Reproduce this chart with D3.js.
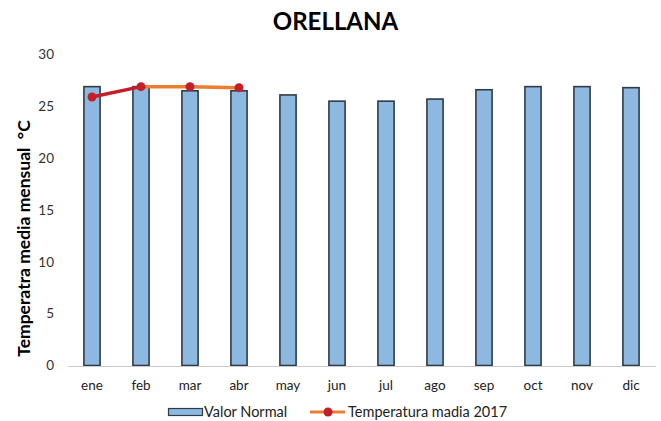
<!DOCTYPE html>
<html><head><meta charset="utf-8">
<script src="https://cdn.jsdelivr.net/npm/d3@7"></script>
<style>body{margin:0;background:#fff}svg{display:block;font-family:Lato,"Open Sans",sans-serif}</style>
</head><body>
<script>
const months = ["ene","feb","mar","abr","may","jun","jul","ago","sep","oct","nov","dic"];
const valorNormal = [26.9,26.9,26.5,26.5,26.1,25.5,25.5,25.7,26.6,26.9,26.9,26.8];
const temp2017 = [25.9,26.9,26.9,26.8];
const yTicks = [0,5,10,15,20,25,30];

const W=661,H=421;
const svg=d3.select("body").append("svg").attr("width",W).attr("height",H);
const x=d3.scaleBand().domain(months).range([67.5,655.5]).paddingInner(0.67).paddingOuter(0.335);
const y=d3.scaleLinear().domain([0,30]).range([365.5,54.5]);

svg.append("text").attr("x",335.5).attr("y",30).attr("text-anchor","middle")
  .attr("font-size",24).attr("font-weight","bold").attr("fill","#000").text("ORELLANA");

// y tick labels
const ya=svg.append("g").attr("transform","translate(54,0)")
  .call(d3.axisLeft(y).tickValues(yTicks).tickSize(0).tickPadding(0));
ya.select(".domain").remove();
ya.selectAll("text").attr("font-size",13.5).attr("fill","#333").attr("font-family","Lato,sans-serif");

// bars
svg.append("g").selectAll("rect").data(valorNormal).join("rect")
  .attr("x",(d,i)=>x(months[i])).attr("width",x.bandwidth())
  .attr("y",d=>y(d)).attr("height",d=>y(0)-y(d))
  .attr("fill","#8DB9E0").attr("stroke","#2F3B47").attr("stroke-width",1.6);

// x axis
const xa=svg.append("g").attr("transform","translate(0,366)")
  .call(d3.axisBottom(x).tickSize(0).tickPadding(14));
xa.select(".domain").attr("stroke","#C8C8C8").attr("stroke-width",1.2);
xa.selectAll("text").attr("font-size",13.5).attr("fill","#222").attr("font-family","Lato,sans-serif");

// line
const cx=i=>x(months[i])+x.bandwidth()/2;
const pts=temp2017.map((d,i)=>[cx(i),y(d)]);
svg.append("path").attr("d",d3.line()(pts.slice(1))).attr("fill","none")
  .attr("stroke","#ED7D31").attr("stroke-width",3.5);
svg.append("path").attr("d",d3.line()(pts.slice(0,2))).attr("fill","none")
  .attr("stroke","#C41E2A").attr("stroke-width",3.5);
svg.append("g").selectAll("circle").data(pts).join("circle")
  .attr("cx",d=>d[0]).attr("cy",d=>d[1]).attr("r",4.5).attr("fill","#C41E2A");

// y label
svg.append("text").attr("transform","translate(30,238.5) rotate(-90)").attr("text-anchor","middle")
  .attr("font-size",17.5).attr("font-weight","bold").attr("fill","#000")
  .attr("xml:space","preserve").style("white-space","pre").text("Temperatra media mensual  °C");

// legend
const lg=svg.append("g");
lg.append("rect").attr("x",168.5).attr("y",408.5).attr("width",34).attr("height",7)
  .attr("fill","#8DB9E0").attr("stroke","#2F3B47").attr("stroke-width",1.2);
lg.append("text").attr("x",204).attr("y",417).attr("font-size",14.5).attr("fill","#222").text("Valor Normal");
lg.append("line").attr("x1",310).attr("x2",345).attr("y1",412).attr("y2",412)
  .attr("stroke","#ED7D31").attr("stroke-width",3);
lg.append("circle").attr("cx",328).attr("cy",412).attr("r",4.5).attr("fill","#C41E2A");
lg.append("text").attr("x",348).attr("y",417).attr("font-size",14.5).attr("fill","#222").text("Temperatura madia 2017");
</script>
</body></html>
